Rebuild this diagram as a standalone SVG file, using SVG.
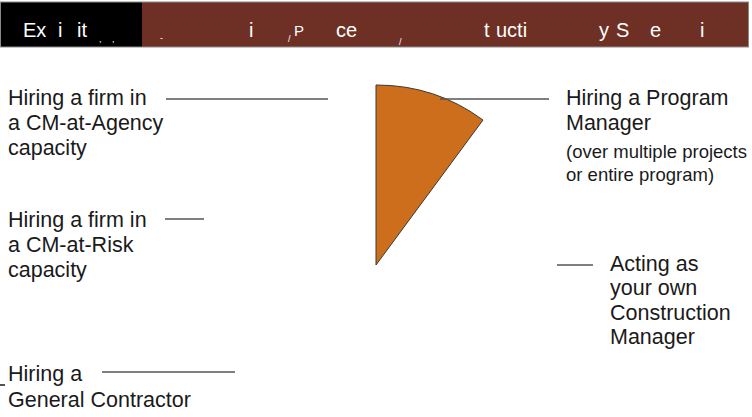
<svg xmlns="http://www.w3.org/2000/svg" width="752" height="417" viewBox="0 0 752 417">
<style>
.lbl{font-family:"Liberation Sans",Arial,sans-serif;font-size:21.5px;fill:#1a1a1a}
.sm{font-family:"Liberation Sans",Arial,sans-serif;font-size:18.5px;fill:#1a1a1a}
.ttl{font-family:"Liberation Sans Narrow","Liberation Sans",Arial,sans-serif;font-size:20px;fill:#ffffff}
.tiny{font-family:"Liberation Sans",Arial,sans-serif;font-size:9px;fill:#ffffff}
.conn{stroke:#555555;stroke-width:1.5;fill:none}
</style>
<rect width="752" height="417" fill="#ffffff"/>
<g id="title">
<rect x="0" y="2" width="142" height="45" fill="#000000"/>
<rect x="142" y="2" width="606" height="45" fill="#6e3024"/>
<rect x="0.5" y="2" width="748" height="45" fill="none" stroke="#8a8a8a" stroke-width="1"/>
<text class="ttl" x="23" y="37">Ex</text>
<text class="ttl" x="58" y="37">i</text>
<text class="ttl" x="77" y="37">it</text>
<text class="tiny" x="99" y="42">,</text>
<text class="tiny" x="112" y="42">,</text>
<text class="tiny" x="160" y="41">-</text>
<text class="ttl" x="249" y="37">i</text>
<text class="tiny" x="288" y="42">/</text>
<text class="ttl" x="294" y="36" style="font-size:15px">P</text>
<text class="ttl" x="336" y="37">ce</text>
<text class="tiny" x="399" y="45">/</text>
<text class="ttl" x="484" y="37">t</text>
<text class="ttl" x="496" y="37">ucti</text>
<text class="ttl" x="599" y="37">y</text>
<text class="ttl" x="616" y="37">S</text>
<text class="ttl" x="650" y="37">e</text>
<text class="ttl" x="700" y="37">i</text>
</g>
<g id="wedge">
<path d="M376,265 L376,85 A180,180 0 0 1 483,120 Z" fill="#cc6e1b" stroke="#3a3a3a" stroke-width="1"/>
</g>
<g id="connectors">
<line class="conn" x1="166" y1="99" x2="328" y2="99"/>
<line class="conn" x1="165" y1="219" x2="204" y2="219"/>
<line class="conn" x1="102" y1="372" x2="235" y2="372"/>
<line class="conn" x1="440" y1="99" x2="549" y2="99"/>
<line class="conn" x1="557" y1="265" x2="593" y2="265"/>
<line x1="0" y1="385" x2="5" y2="385" stroke="#1a1a1a" stroke-width="1.5"/>
</g>
<g id="cm-agency">
<text class="lbl" x="8" y="105">Hiring a firm in</text>
<text class="lbl" x="8" y="130">a CM-at-Agency</text>
<text class="lbl" x="8" y="155">capacity</text>
</g>
<g id="cm-risk">
<text class="lbl" x="8" y="227">Hiring a firm in</text>
<text class="lbl" x="8" y="252">a CM-at-Risk</text>
<text class="lbl" x="8" y="277">capacity</text>
</g>
<g id="general-contractor">
<text class="lbl" x="8" y="381">Hiring a</text>
<text class="lbl" x="8" y="407">General Contractor</text>
</g>
<g id="program-manager">
<text class="lbl" x="566" y="105">Hiring a Program</text>
<text class="lbl" x="566" y="130">Manager</text>
<text class="sm" x="566" y="158">(over multiple projects</text>
<text class="sm" x="566" y="181">or entire program)</text>
</g>
<g id="own-cm">
<text class="lbl" x="610" y="271">Acting as</text>
<text class="lbl" x="610" y="295">your own</text>
<text class="lbl" x="610" y="320">Construction</text>
<text class="lbl" x="610" y="344">Manager</text>
</g>
</svg>
